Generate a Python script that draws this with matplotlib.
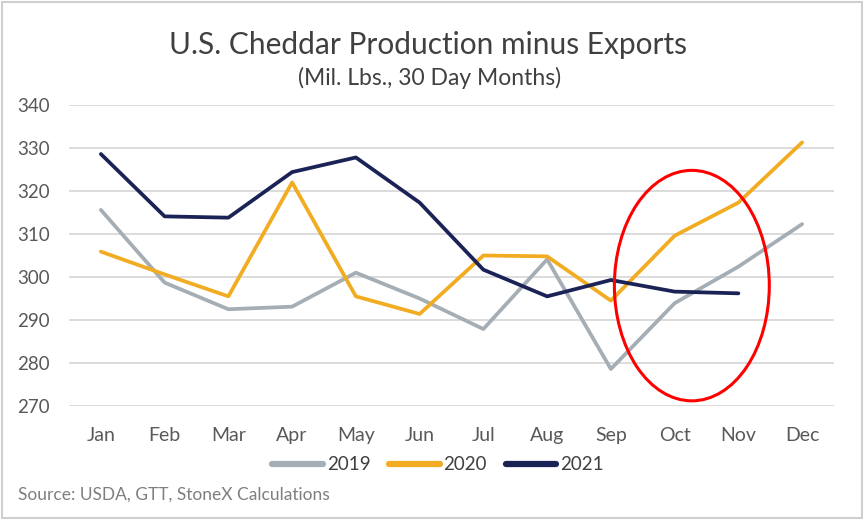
import matplotlib
matplotlib.use("Agg")
import matplotlib.pyplot as plt
from matplotlib.patches import Ellipse, Rectangle

months = ["Jan", "Feb", "Mar", "Apr", "May", "Jun", "Jul", "Aug", "Sep", "Oct", "Nov", "Dec"]
y2019 = [315.6, 298.7, 292.5, 293.1, 301.0, 295.0, 287.9, 304.1, 278.6, 293.9, 302.4, 312.3]
y2020 = [305.9, 300.6, 295.5, 322.0, 295.5, 291.4, 305.0, 304.8, 294.5, 309.6, 317.3, 331.3]
y2021 = [328.6, 314.1, 313.8, 324.4, 327.8, 317.3, 301.7, 295.5, 299.3, 296.6, 296.2]
yticks = [270, 280, 290, 300, 310, 320, 330, 340]

plt.rcParams['font.family'] = ['Lato', 'DejaVu Sans']

fig = plt.figure(figsize=(8.64, 5.2), dpi=100)
ax = fig.add_axes([69/864, 1-406/520, (834-69)/864, (406-105)/520])

x = list(range(len(months)))
ax.plot(x, y2019, color="#A5ADB5", lw=2.7, label="2019", solid_capstyle="round", zorder=3)
ax.plot(x, y2020, color="#F2AC22", lw=2.7, label="2020", solid_capstyle="round", zorder=4)
ax.plot(x[:len(y2021)], y2021, color="#1B2356", lw=2.7, label="2021", solid_capstyle="round", zorder=5)

ax.add_patch(Ellipse((9.27, 298.0), 2.43, 53.6, fill=False, edgecolor="#FF0000", lw=2.2, zorder=6))

ax.set_xlim(-0.5, 11.5)
ax.set_ylim(270, 340)
ax.set_xticks(x)
ax.set_xticklabels(months)
ax.set_yticks(yticks)
ax.tick_params(axis='x', length=0, labelsize=14, colors="#595959", pad=15)
ax.tick_params(axis='y', length=0, labelsize=13.5, colors="#595959", pad=14)
ax.grid(axis='y', color="#D9D9D9", lw=1.3, zorder=0)
for s in ax.spines.values():
    s.set_visible(False)

fig.text(0.495, 1-45/520, "U.S. Cheddar Production minus Exports", ha='center', va='center',
         fontsize=21.5, color="#404040")
fig.text(0.497, 1-78/520, "(Mil. Lbs., 30 Day Months)", ha='center', va='center',
         fontsize=16.5, color="#404040")

leg = fig.legend(loc='center', bbox_to_anchor=(438/864, 1-465/520), ncol=3, frameon=False,
                 fontsize=13.5, handlelength=2.7, columnspacing=1.0, handletextpad=0.2)
for t in leg.get_texts():
    t.set_color("#404040")
for h in leg.get_lines():
    h.set_linewidth(4.5)

fig.text(18/864, 1-495/520, "Source: USDA, GTT, StoneX Calculations", ha='left', va='center',
         fontsize=12.5, color="#7F7F7F")

fig.patches.append(Rectangle((0.002, 0.003), 0.996, 0.994, transform=fig.transFigure,
                             fill=False, edgecolor="#D0D0D0", lw=1.5))

fig.savefig("out.png", dpi=100)
